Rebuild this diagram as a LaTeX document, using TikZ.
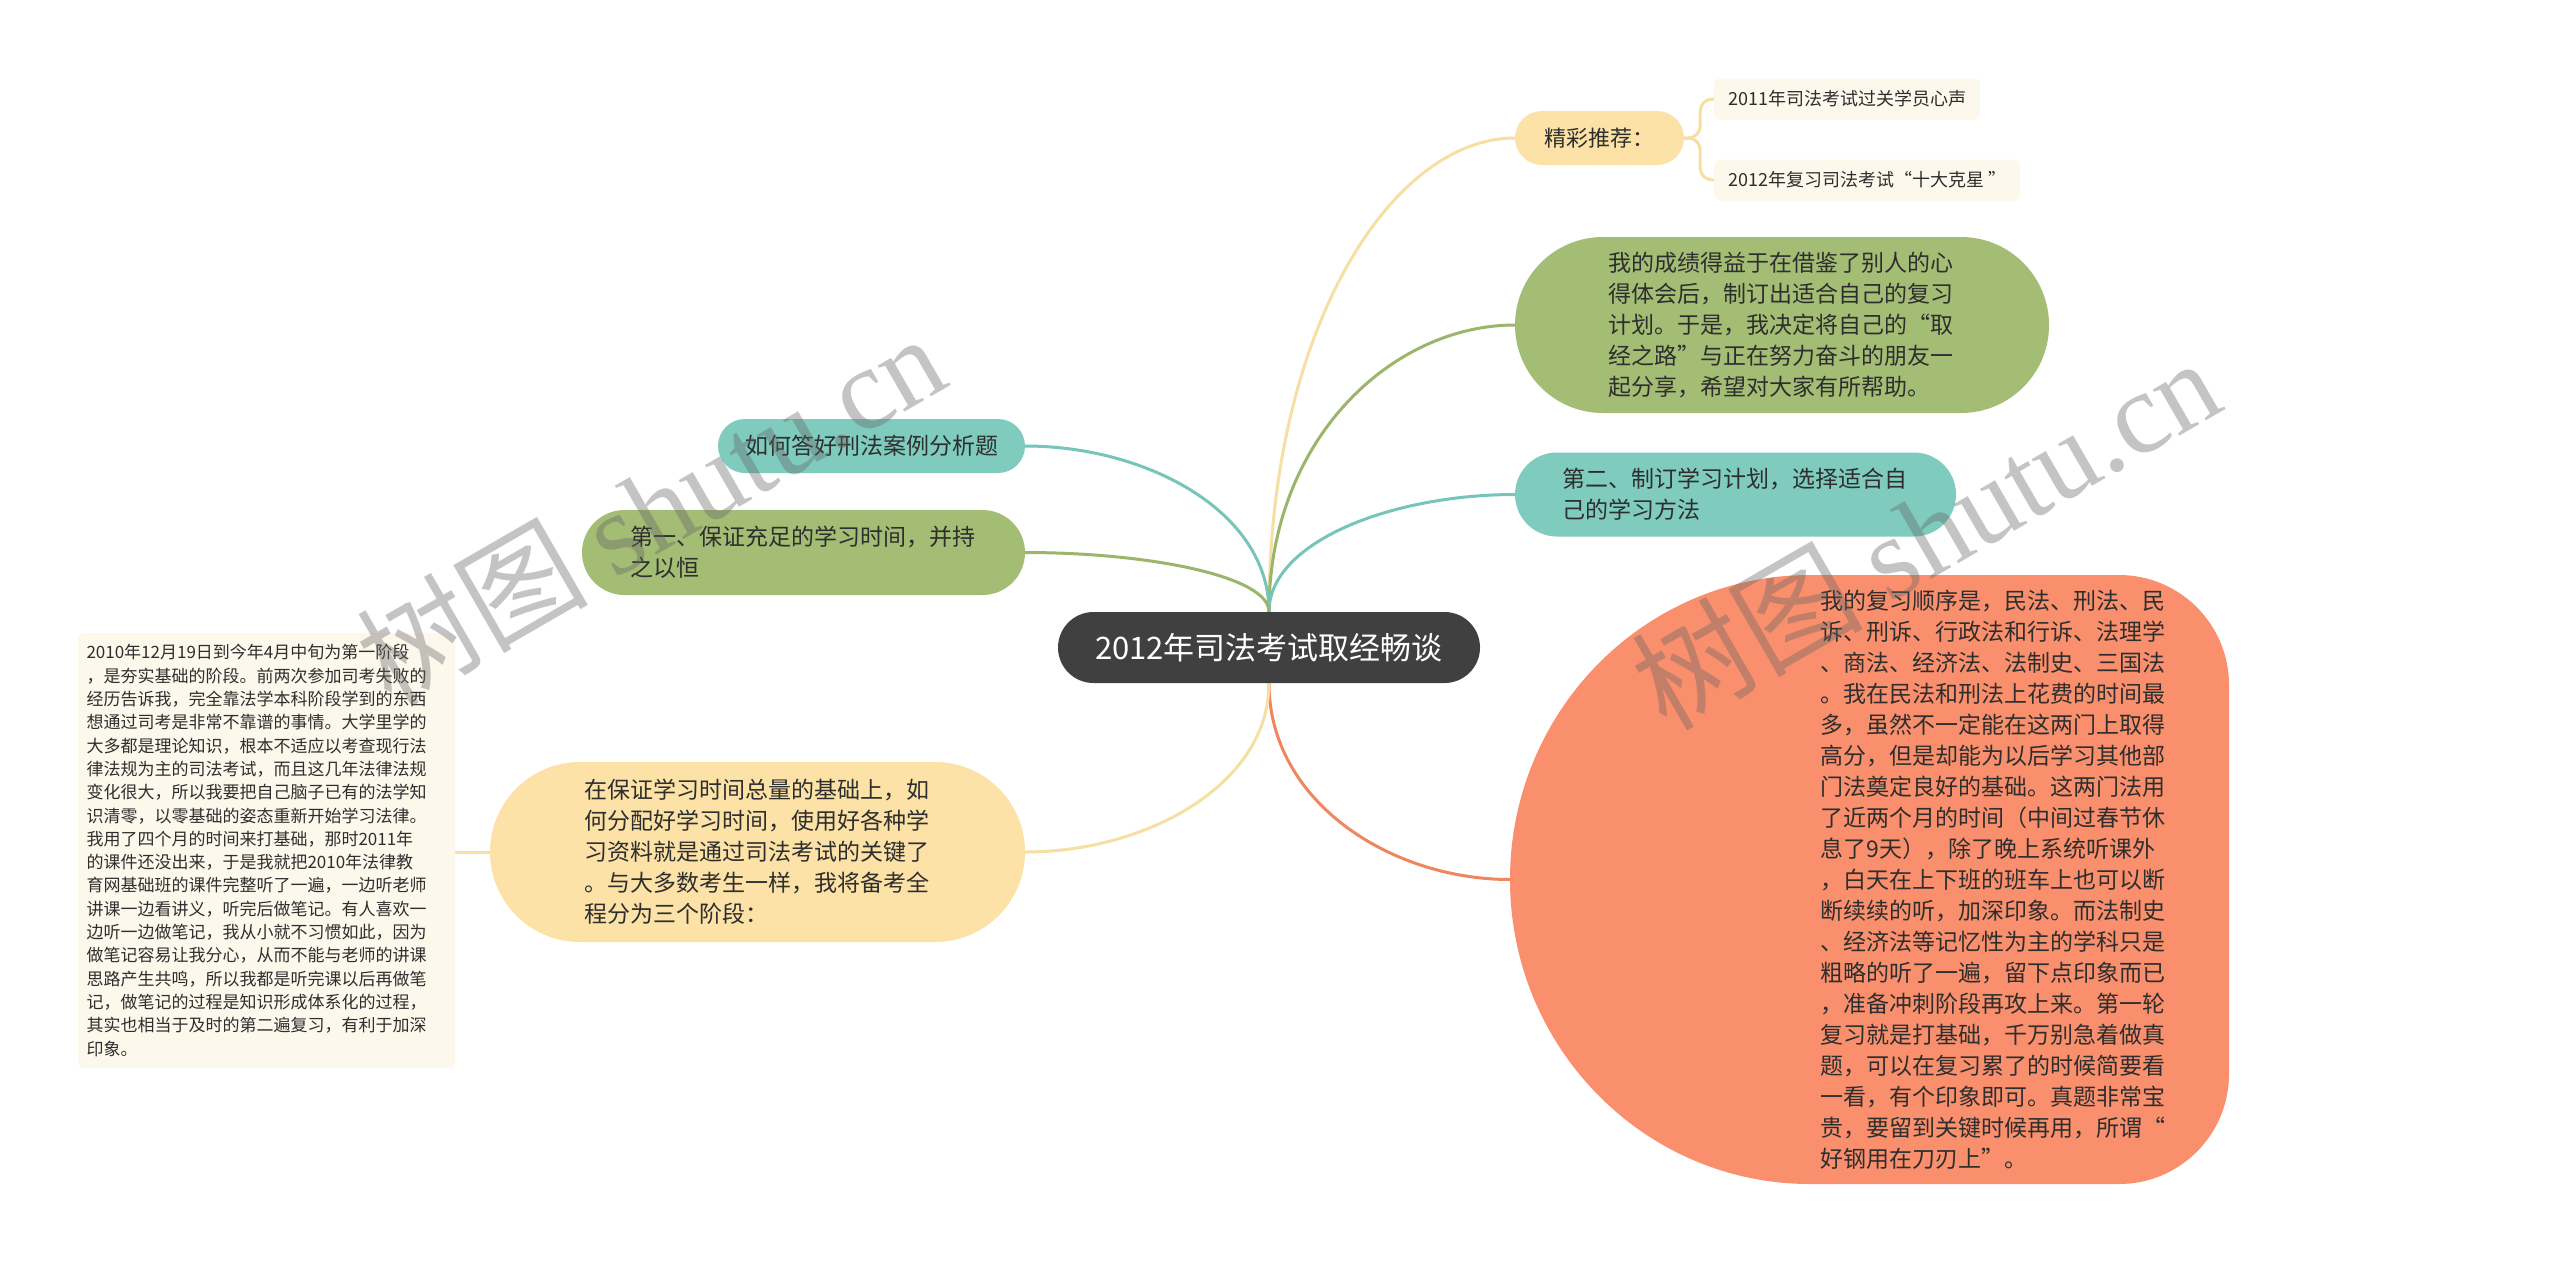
\documentclass[tikz,border=0pt]{standalone}
\usepackage{fontspec}
\setmainfont{Noto Sans CJK SC}
\newfontfamily\wmlatin{Liberation Serif}
\newcommand\myfs[2]{\fontsize{#1}{#2}\selectfont}
\definecolor{cdark}{HTML}{404040}
\definecolor{txt}{HTML}{2E2E2E}
\definecolor{cyellow}{HTML}{FCE2A6}
\definecolor{ccream}{HTML}{FDF8EC}
\definecolor{cgreen}{HTML}{A4BD75}
\definecolor{cteal}{HTML}{7FCBBE}
\definecolor{corange}{HTML}{F98F6C}
\definecolor{lyellow}{HTML}{F7DFA4}
\definecolor{lgreen}{HTML}{9DB56A}
\definecolor{lteal}{HTML}{76C5B8}
\definecolor{lorange}{HTML}{EE8660}
\pgfdeclarelayer{bg}
\pgfdeclarelayer{paper}
\pgfsetlayers{paper,bg,main}
\begin{document}
\begin{tikzpicture}[x=1pt,y=-1pt,
  pill/.style={rectangle, draw=none, text=txt, inner sep=0pt, align=left},
  longtxt/.style={text width=347pt, font=\myfs{23}{31}},
  boxnode/.style={rectangle, fill=ccream, text=txt, rounded corners=6pt, minimum height=41pt, inner xsep=14pt, inner ysep=0pt, font=\myfs{18}{22}},
  conn/.style={line width=3pt},
  wm/.style={text=black!60, text opacity=0.38, font=\myfs{116}{120}, inner sep=0pt}]
\begin{pgfonlayer}{paper}
\fill[white] (0,0) rectangle (2560,1262);
\end{pgfonlayer}
\useasboundingbox (0,0) rectangle (2560,1262);

% central node
\node[pill, fill=cdark, text=white, minimum width=422pt, minimum height=71pt, rounded corners=35.5pt, font=\myfs{31}{38}] (c) at (1269,647.5) {2012年司法考试取经畅谈};

% right side
\node[pill, fill=cyellow, minimum width=169pt, minimum height=54pt, rounded corners=27pt, font=\myfs{22}{28}] (jing) at (1599.5,138) {精彩推荐：};
\node[boxnode, anchor=west] (r1) at (1714,99) {2011年司法考试过关学员心声};
\node[boxnode, anchor=west] (r2) at (1714,180) {2012年复习司法考试“十大克星 ”};

\node[pill, longtxt, fill=cgreen, minimum width=534pt, minimum height=176pt, rounded corners=88pt] (g1) at (1782,325) {我的成绩得益于在借鉴了别人的心\\得体会后，制订出适合自己的复习\\计划。于是，我决定将自己的“取\\经之路”与正在努力奋斗的朋友一\\起分享，希望对大家有所帮助。};

\node[pill, longtxt, fill=cteal, minimum width=441pt, minimum height=84pt, rounded corners=42pt] (t1) at (1735.5,494.5) {第二、制订学习计划，选择适合自\\己的学习方法};

% orange shape
\fill[corange] (1810,575) -- (2119,575) arc[start angle=270, end angle=360, radius=110] -- (2229,1074) arc[start angle=0, end angle=90, radius=110] -- (1810,1184) arc[start angle=90, end angle=270, x radius=300, y radius=304.5] -- cycle;
\coordinate (oW) at (1510,879.5);
\node[pill, longtxt] (o1) at (1994,880) {我的复习顺序是，民法、刑法、民\\诉、刑诉、行政法和行诉、法理学\\、商法、经济法、法制史、三国法\\。我在民法和刑法上花费的时间最\\多，虽然不一定能在这两门上取得\\高分，但是却能为以后学习其他部\\门法奠定良好的基础。这两门法用\\了近两个月的时间（中间过春节休\\息了9天），除了晚上系统听课外\\，白天在上下班的班车上也可以断\\断续续的听，加深印象。而法制史\\、经济法等记忆性为主的学科只是\\粗略的听了一遍，留下点印象而已\\，准备冲刺阶段再攻上来。第一轮\\复习就是打基础，千万别急着做真\\题，可以在复习累了的时候简要看\\一看，有个印象即可。真题非常宝\\贵，要留到关键时候再用，所谓“\\好钢用在刀刃上”。};

% left side
\node[pill, fill=cteal, minimum width=307pt, minimum height=54pt, rounded corners=27pt, font=\myfs{23}{28}] (t2) at (871.5,446) {如何答好刑法案例分析题};
\node[pill, longtxt, fill=cgreen, minimum width=443pt, minimum height=85pt, rounded corners=42.5pt] (g2) at (803.5,552.5) {第一、保证充足的学习时间，并持\\之以恒};
\node[pill, longtxt, fill=cyellow, minimum width=535pt, minimum height=180pt, rounded corners=90pt] (y2) at (757.5,852) {在保证学习时间总量的基础上，如\\何分配好学习时间，使用好各种学\\习资料就是通过司法考试的关键了\\。与大多数考生一样，我将备考全\\程分为三个阶段：};
\node[pill, fill=ccream, rounded corners=6pt, minimum width=377pt, minimum height=435pt, text width=360pt, font=\myfs{17}{23.3}] (lb) at (266.5,850.5) {2010年12月19日到今年4月中旬为第一阶段\\，是夯实基础的阶段。前两次参加司考失败的\\经历告诉我，完全靠法学本科阶段学到的东西\\想通过司考是非常不靠谱的事情。大学里学的\\大多都是理论知识，根本不适应以考查现行法\\律法规为主的司法考试，而且这几年法律法规\\变化很大，所以我要把自己脑子已有的法学知\\识清零，以零基础的姿态重新开始学习法律。\\我用了四个月的时间来打基础，那时2011年\\的课件还没出来，于是我就把2010年法律教\\育网基础班的课件完整听了一遍，一边听老师\\讲课一边看讲义，听完后做笔记。有人喜欢一\\边听一边做笔记，我从小就不习惯如此，因为\\做笔记容易让我分心，从而不能与老师的讲课\\思路产生共鸣，所以我都是听完课以后再做笔\\记，做笔记的过程是知识形成体系化的过程，\\其实也相当于及时的第二遍复习，有利于加深\\印象。};

% connectors
\begin{pgfonlayer}{bg}
\draw[conn, lyellow] (c.north) .. controls +(0,-284) and +(-123,0) .. (jing.west);
\draw[conn, lgreen] (c.north) .. controls +(0,-172) and +(-123,0) .. (g1.west);
\draw[conn, lteal] (c.north) .. controls +(0,-70) and +(-123,0) .. (t1.west);
\draw[conn, lorange] (c.south) .. controls +(0,118) and +(-120,0) .. (oW);
\draw[conn, lteal] (c.north) .. controls +(0,-100) and +(122,0) .. (t2.east);
\draw[conn, lgreen] (c.north) .. controls +(0,-36) and +(122,0) .. (g2.east);
\draw[conn, lyellow] (c.south) .. controls +(0,101) and +(122,0) .. (y2.east);
\draw[conn, lyellow] (y2.west) -- (lb.east |- y2.west);
\draw[conn, lyellow, rounded corners=12pt] (jing.east) -- ++(16,0) |- (r1.west);
\draw[conn, lyellow, rounded corners=12pt] (jing.east) -- ++(16,0) |- (r2.west);
\end{pgfonlayer}

% watermarks
\node[wm, rotate=30] (wm1) at (650,508) {树图 {\wmlatin shutu.cn}};
\node[wm, rotate=30] (wm2) at (1925,532) {树图 {\wmlatin shutu.cn}};
\end{tikzpicture}
\end{document}
